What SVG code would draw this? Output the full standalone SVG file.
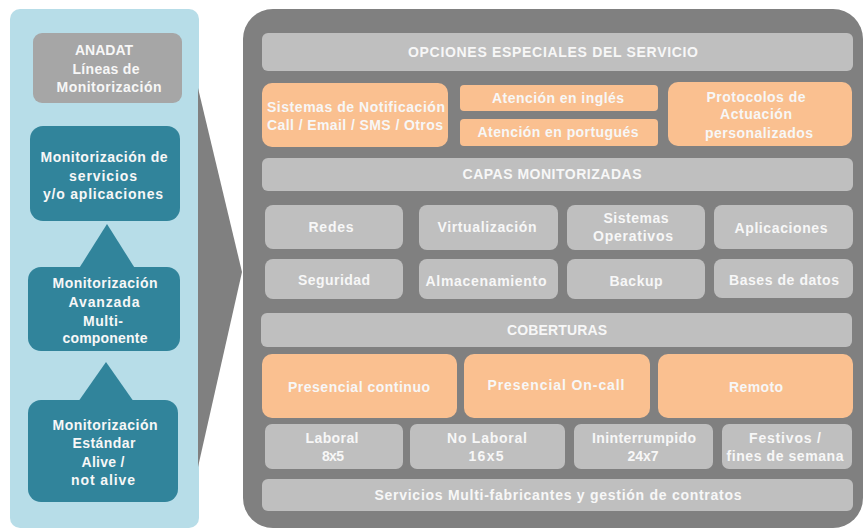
<svg xmlns="http://www.w3.org/2000/svg" width="863" height="529" viewBox="0 0 863 529">
<style>
text{font-family:"Liberation Sans",Arial,sans-serif;font-size:14px;font-weight:bold;fill:#f7f7f7;text-anchor:middle}
.lb{fill:#b7dde8}
.teal{fill:#31849b}
.g{fill:#bfbfbf}
.o{fill:#fac090}
.dk{fill:#808080}
</style>
<rect x="10" y="9" width="189" height="519" rx="10" class="lb"/>
<polygon points="198,88 242,272 198,467" class="dk"/>
<rect x="243" y="9" width="620" height="519" rx="30" class="dk"/>

<g id="anadat">
<rect x="33" y="33" width="149" height="70" rx="9" fill="#a6a6a6"/>
<text x="104" y="55" textLength="58" lengthAdjust="spacing">ANADAT</text>
<text x="106" y="74" textLength="67" lengthAdjust="spacing">Líneas de</text>
<text x="109" y="92" textLength="105" lengthAdjust="spacing">Monitorización</text>
</g>
<g id="mon-servicios">
<rect x="30" y="126" width="150" height="95" rx="13" class="teal"/>
<text x="104" y="162" textLength="127" lengthAdjust="spacing">Monitorización de</text>
<text x="103" y="181" textLength="68" lengthAdjust="spacing">servicios</text>
<text x="103" y="199" textLength="120" lengthAdjust="spacing">y/o aplicaciones</text>
</g>
<g id="mon-avanzada">
<polygon points="107,224 78,270 136,270" class="teal"/>
<rect x="28" y="267" width="152" height="84" rx="13" class="teal"/>
<text x="105" y="288" textLength="105" lengthAdjust="spacing">Monitorización</text>
<text x="104" y="307" textLength="71" lengthAdjust="spacing">Avanzada</text>
<text x="103" y="326" textLength="40" lengthAdjust="spacing">Multi-</text>
<text x="105" y="343" textLength="85" lengthAdjust="spacing">componente</text>
</g>
<g id="mon-estandar">
<polygon points="106,362 78,402 134,402" class="teal"/>
<rect x="28" y="400" width="150" height="102" rx="13" class="teal"/>
<text x="105" y="430" textLength="105" lengthAdjust="spacing">Monitorización</text>
<text x="104" y="448" textLength="63" lengthAdjust="spacing">Estándar</text>
<text x="103" y="467" textLength="43" lengthAdjust="spacing">Alive /</text>
<text x="103" y="485" textLength="64" lengthAdjust="spacing">not alive</text>
</g>

<g id="opciones">
<rect x="262" y="33" width="591" height="38" rx="6" class="g"/>
<text x="553" y="57" textLength="290" lengthAdjust="spacing">OPCIONES ESPECIALES DEL SERVICIO</text>
</g>
<g id="notificacion">
<rect x="262" y="83" width="186" height="64" rx="10" class="o"/>
<text x="356" y="112" textLength="178" lengthAdjust="spacing">Sistemas  de Notificación</text>
<text x="355" y="130" textLength="176" lengthAdjust="spacing">Call / Email /  SMS / Otros</text>
</g>
<g id="ingles">
<rect x="460" y="85" width="198" height="26" rx="4" class="o"/>
<text x="558" y="103" textLength="132" lengthAdjust="spacing">Atención  en inglés</text>
</g>
<g id="portugues">
<rect x="460" y="119" width="198" height="27" rx="4" class="o"/>
<text x="558" y="137" textLength="161" lengthAdjust="spacing">Atención  en portugués</text>
</g>
<g id="protocolos">
<rect x="668" y="82" width="184" height="64" rx="10" class="o"/>
<text x="756" y="102" textLength="99" lengthAdjust="spacing">Protocolos de</text>
<text x="756" y="119" textLength="72" lengthAdjust="spacing">Actuación</text>
<text x="759" y="138" textLength="108" lengthAdjust="spacing">personalizados</text>
</g>

<g id="capas">
<rect x="262" y="158" width="591" height="33" rx="6" class="g"/>
<text x="552" y="179" textLength="179" lengthAdjust="spacing">CAPAS  MONITORIZADAS</text>
</g>
<g id="redes"><rect x="265" y="205" width="138" height="44" rx="8" class="g"/><text x="331" y="232" textLength="45" lengthAdjust="spacing">Redes</text></g>
<g id="virtualizacion"><rect x="419" y="205" width="139" height="45" rx="8" class="g"/><text x="487" y="232" textLength="99" lengthAdjust="spacing">Virtualización</text></g>
<g id="sistemas-operativos"><rect x="567" y="205" width="138" height="45" rx="8" class="g"/><text x="636" y="223" textLength="65" lengthAdjust="spacing">Sistemas</text><text x="633" y="241" textLength="80" lengthAdjust="spacing">Operativos</text></g>
<g id="aplicaciones"><rect x="714" y="205" width="139" height="44" rx="8" class="g"/><text x="781" y="233" textLength="93" lengthAdjust="spacing">Aplicaciones</text></g>
<g id="seguridad"><rect x="265" y="259" width="138" height="40" rx="8" class="g"/><text x="334" y="285" textLength="72" lengthAdjust="spacing">Seguridad</text></g>
<g id="almacenamiento"><rect x="419" y="259" width="139" height="40" rx="8" class="g"/><text x="486" y="286" textLength="121" lengthAdjust="spacing">Almacenamiento</text></g>
<g id="backup"><rect x="567" y="259" width="138" height="40" rx="8" class="g"/><text x="636" y="286" textLength="53" lengthAdjust="spacing">Backup</text></g>
<g id="bases-datos"><rect x="714" y="259" width="139" height="39" rx="8" class="g"/><text x="784" y="285" textLength="110" lengthAdjust="spacing">Bases de datos</text></g>

<g id="coberturas">
<rect x="261" y="313" width="591" height="34" rx="6" class="g"/>
<text x="557" y="335" textLength="100" lengthAdjust="spacing">COBERTURAS</text>
</g>
<g id="presencial-continuo"><rect x="262" y="354" width="195" height="64" rx="10" class="o"/><text x="359" y="392" textLength="142" lengthAdjust="spacing">Presencial continuo</text></g>
<g id="presencial-oncall"><rect x="464" y="354" width="186" height="64" rx="10" class="o"/><text x="556" y="390" textLength="137" lengthAdjust="spacing">Presencial  On-call</text></g>
<g id="remoto"><rect x="658" y="354" width="195" height="64" rx="10" class="o"/><text x="756" y="392" textLength="54" lengthAdjust="spacing">Remoto</text></g>

<g id="laboral"><rect x="265" y="424" width="138" height="45" rx="7" class="g"/><text x="332" y="443" textLength="53" lengthAdjust="spacing">Laboral</text><text x="333" y="461" textLength="22" lengthAdjust="spacing">8x5</text></g>
<g id="no-laboral"><rect x="410" y="424" width="155" height="45" rx="7" class="g"/><text x="487" y="443" textLength="80" lengthAdjust="spacing">No Laboral</text><text x="486" y="461" textLength="35" lengthAdjust="spacing">16x5</text></g>
<g id="ininterrumpido"><rect x="574" y="424" width="139" height="45" rx="7" class="g"/><text x="644" y="443" textLength="104" lengthAdjust="spacing">Ininterrumpido</text><text x="643" y="461" textLength="31" lengthAdjust="spacing">24x7</text></g>
<g id="festivos"><rect x="722" y="424" width="130" height="45" rx="7" class="g"/><text x="785" y="443" textLength="72" lengthAdjust="spacing">Festivos /</text><text x="785" y="461" textLength="117" lengthAdjust="spacing">fines de semana</text></g>

<g id="servicios">
<rect x="262" y="479" width="591" height="32" rx="6" class="g"/>
<text x="558" y="500" textLength="367" lengthAdjust="spacing">Servicios Multi-fabricantes  y  gestión  de contratos</text>
</g>
<g id="connectors"></g>
</svg>
